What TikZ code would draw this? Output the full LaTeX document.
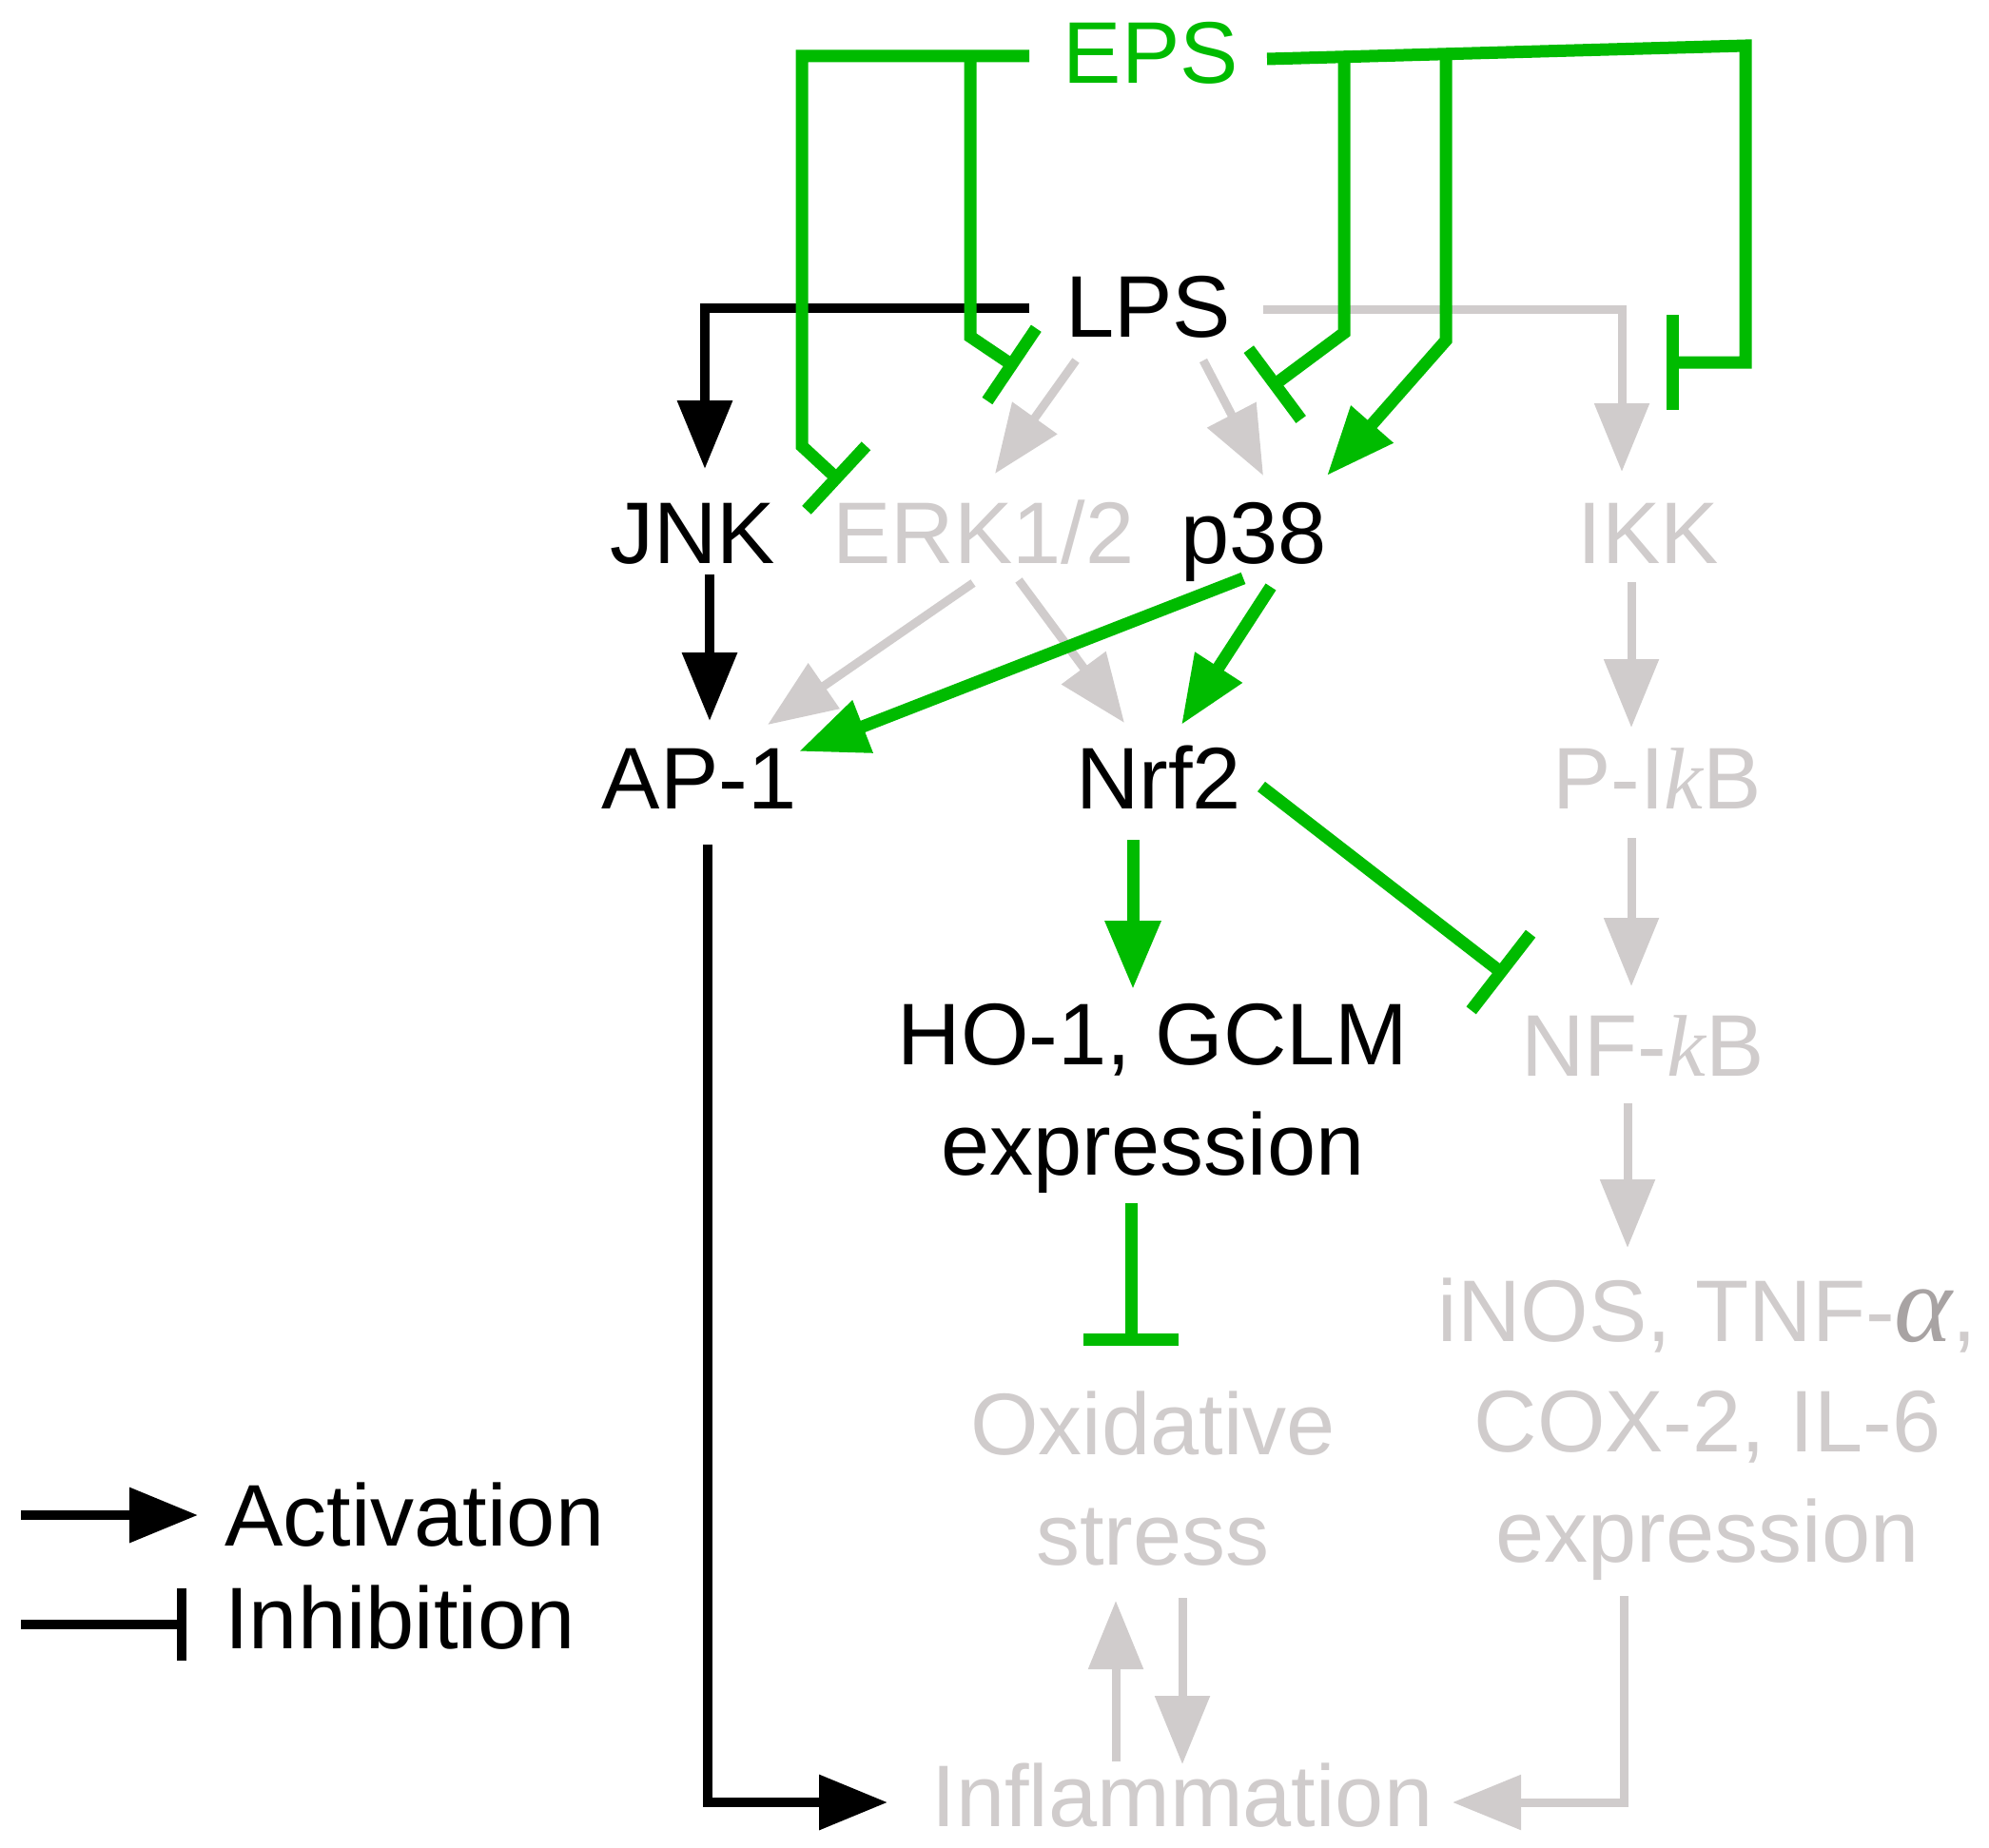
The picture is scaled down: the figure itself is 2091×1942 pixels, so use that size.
\documentclass[tikz,border=0pt]{standalone}
\usepackage{fontspec}
\setmainfont{Liberation Sans}
\newfontfamily\grk{Liberation Serif}
\usetikzlibrary{arrows.meta,calc}
\definecolor{epsgreen}{RGB}{0,187,0}
\definecolor{fadegrey}{RGB}{208,204,204}
\definecolor{alphagrey}{RGB}{168,163,163}
\newcommand{\stk}[1]{\begin{tabular}[t]{@{}c@{}}#1\end{tabular}}
\begin{document}
\begin{tikzpicture}[x=0.5pt,y=-0.5pt,
  lbl/.style={inner sep=0pt, font=\fontsize{46}{58}\selectfont, anchor=base},
  glbl/.style={lbl,text=fadegrey},
  act/.style={-{Triangle[length=36pt,width=28pt]}},
  inh/.style={-{Bar[width=46pt]}},
  gline/.style={line width=6.5pt, draw=epsgreen},
  bline/.style={line width=5pt, draw=black},
  rline/.style={line width=4.5pt, draw=fadegrey},
  line join=miter]
\useasboundingbox (0,0) rectangle (2091,1942);
% nodes
\node[lbl,text=epsgreen] (eps) at (1210,88) {EPS};
\node[lbl] (lps) at (1207,354) {LPS};
\node[lbl] (jnk) at (728,592) {JNK};
\node[glbl] (erk) at (1034,592) {ERK1/2};
\node[lbl] (p38) at (1318,592) {p38};
\node[glbl] (ikk) at (1733,592) {IKK};
\node[lbl] (ap1) at (735,850) {AP-1};
\node[lbl] (nrf2) at (1218,850) {Nrf2};
\node[glbl] (pikb) at (1742,850) {P-I{\grk\itshape k}B};
\node[lbl] (ho) at (1212,1119) {\stk{HO-1, GCLM\\expression}};
\node[glbl] (nfkb) at (1727,1131) {NF-{\grk\itshape k}B};
\node[glbl] (cyt) at (1795,1410) {\stk{iNOS, TNF-{\color{alphagrey}\grk\itshape\fontsize{58}{58}\selectfont α},\\COX-2, IL-6\\expression}};
\node[glbl] (ox) at (1212,1529) {\stk{Oxidative\\stress}};
\node[glbl] (infl) at (1243,1920) {Inflammation};
\node[lbl,anchor=base west] (legact) at (236,1625) {Activation};
\node[lbl,anchor=base west] (leginh) at (236,1733) {Inhibition};
% grey connectors
\draw[rline,act] ($(lps.base)+(121,-29)$) -| ($(ikk.base)+(-28,-96)$);
\draw[rline,act] ($(lps.base)+(-76,25)$) -- ($(erk.base)+(12,-94)$);
\draw[rline,act] ($(lps.base)+(58,25)$) -- ($(p38.base)+(10,-92)$);
\draw[rline,act] ($(erk.base)+(-11,21)$) -- ($(ap1.base)+(72,-88)$);
\draw[rline,act] ($(erk.base)+(37,18)$) -- ($(nrf2.base)+(-36,-90)$);
\draw[rline,act] ($(ikk.base)+(-18,20)$) -- ($(pikb.base)+(-27,-85)$);
\draw[rline,act] ($(pikb.base)+(-27,31)$) -- ($(nfkb.base)+(-12,-94)$);
\draw[rline,act] ($(nfkb.base)+(-16,29)$) -- ($(cyt.base)+(-84,-98)$);
\draw[rline,act] ($(infl.base)+(-70,-68)$) -- ($(ox.base)+(-39,154)$);
\draw[rline,act] ($(ox.base)+(31,151)$) -- ($(infl.base)+(0,-65)$);
\draw[rline,act] ($(cyt.base)+(-88,268)$) |- ($(infl.base)+(284,-25)$);
% black connectors
\draw[bline,act] ($(lps.base)+(-125,-30)$) -| ($(jnk.base)+(13,-99)$);
\draw[bline,act] ($(jnk.base)+(18,12)$) -- ($(ap1.base)+(11,-92)$);
\draw[bline,act] ($(ap1.base)+(9,38)$) |- ($(infl.base)+(-310,-25)$);
% green connectors
\draw[gline,inh] ($(eps.base)+(-128,-29)$) -| ($(jnk.base)+(115,-123)$) -- ($(jnk.base)+(156,-85)$);
\draw[gline,inh] ($(eps.base)+(-190,-29)$) -- ($(erk.base)+(-14,-238)$) -- ($(erk.base)+(35,-205)$);
\draw[gline,-{Bar[width=50pt]}] ($(eps.base)+(122,-26)$) -- ($(eps.base)+(625,-40)$) |- ($(ikk.base)+(19,-211)$);
\draw[gline,inh] ($(eps.base)+(203,-28)$) -- ($(p38.base)+(95,-242)$) -- ($(p38.base)+(17,-184)$);
\draw[gline,act] ($(eps.base)+(310,-31)$) -- ($(p38.base)+(202,-234)$) -- ($(p38.base)+(77,-92)$);
\draw[gline,act] ($(p38.base)+(-11,16)$) -- ($(ap1.base)+(105,-60)$);
\draw[gline,act] ($(p38.base)+(18,25)$) -- ($(nrf2.base)+(24,-88)$);
\draw[gline,act] ($(nrf2.base)+(-27,33)$) -- ($(ho.base)+(-21,-79)$);
\draw[gline,-{Bar[width=51pt]}] ($(nrf2.base)+(108,-23)$) -- ($(nfkb.base)+(-144,-105)$);
\draw[gline,-{Bar[width=50pt]}] ($(ho.base)+(-23,146)$) -- ($(ox.base)+(-23,-114)$);
% legend
\draw[bline,act] ($(legact.base west)+(-214,-32)$) -- ($(legact.base west)+(-28,-32)$);
\draw[bline,-{Bar[width=38pt]}] ($(leginh.base west)+(-214,-25)$) -- ($(leginh.base west)+(-40,-25)$);
\end{tikzpicture}
\end{document}
